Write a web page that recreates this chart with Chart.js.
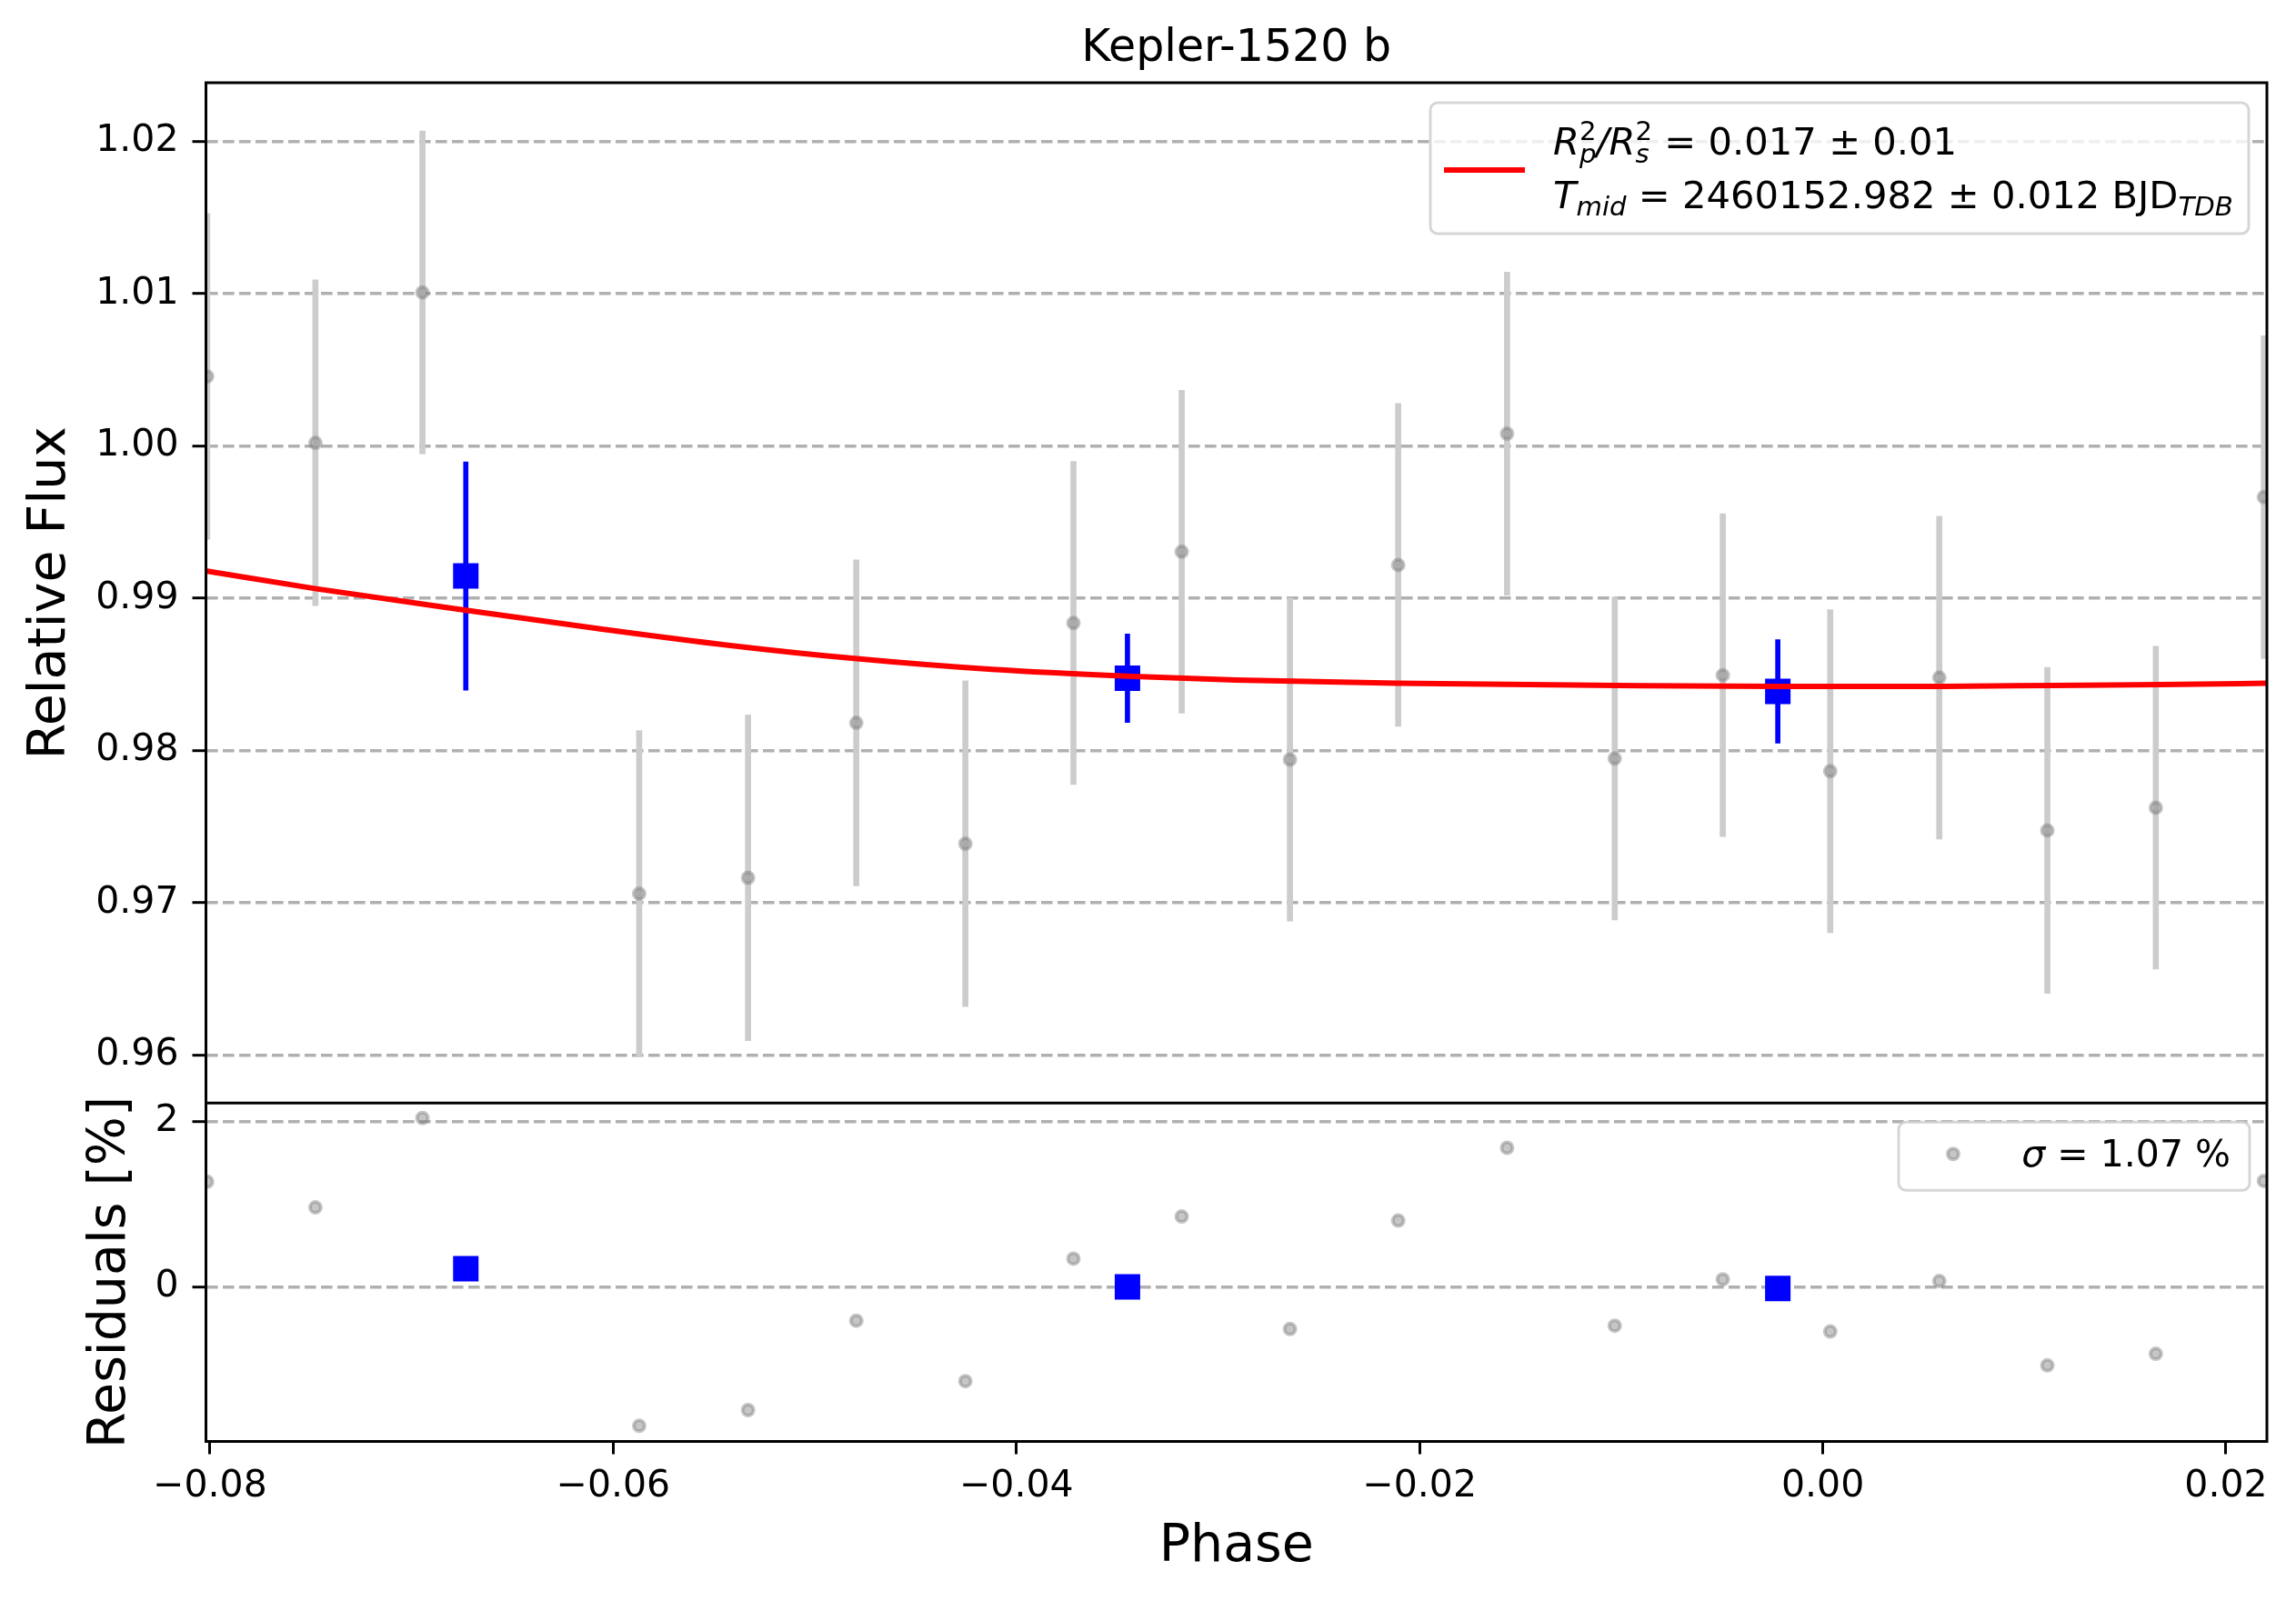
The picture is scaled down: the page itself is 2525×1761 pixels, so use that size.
<!DOCTYPE html>
<html>
<head>
<meta charset="utf-8">
<title>Kepler-1520 b</title>
<script src="https://cdn.jsdelivr.net/npm/chart.js@4.4.0/dist/chart.umd.min.js"></script>
<style>
  html, body { margin: 0; padding: 0; background: #fff; }
  canvas { display: block; }
</style>
</head>
<body>
<canvas id="lc" width="2525" height="1761"></canvas>
<script>
// phase-folded points (grey)
const phase = [-0.08014, -0.07477, -0.06946, -0.05871, -0.05331, -0.04794, -0.04253, -0.03717, -0.03180, -0.02643,
               -0.02106, -0.01566, -0.01032, -0.00496, 0.00037, 0.00578, 0.01114, 0.01652, 0.02188];
const flux = [1.00456, 1.00020, 1.01007, 0.97060, 0.97164, 0.98181, 0.97388, 0.98837, 0.99305, 0.97940,
              0.99218, 1.00080, 0.97947, 0.98494, 0.97864, 0.98478, 0.97475, 0.97624, 0.99663];
const fluxErr = [0.0107, 0.0107, 0.0106, 0.0107, 0.0107, 0.0107, 0.0107, 0.0106, 0.0106, 0.0106,
                 0.0106, 0.0106, 0.0106, 0.0106, 0.0106, 0.0106, 0.0107, 0.0106, 0.0106];
const residual = [1.27, 0.96, 2.04, -1.68, -1.49, -0.41, -1.14, 0.34, 0.85, -0.51,
                  0.80, 1.68, -0.47, 0.09, -0.54, 0.07, -0.95, -0.81, 1.28];

// binned points (blue)
const binPhase = [-0.06731, -0.03449, -0.00223];
const binFlux = [0.99145, 0.98474, 0.98388];
const binErr = [0.0075, 0.0029, 0.0034];
const binResidual = [0.22, 0.00, -0.02];

// transit model (red)
const modelPhase = [-0.0802, -0.0748, -0.0673, -0.0608, -0.0543, -0.0479, -0.0412, -0.0345,
                    -0.0291, -0.0211, -0.0102, -0.0022, 0.0059, 0.0113, 0.0167, 0.0220];
const modelFlux = [0.99179, 0.99063, 0.98920, 0.98801, 0.98691, 0.98602, 0.98532, 0.98487,
                   0.98462, 0.98441, 0.98427, 0.98421, 0.98421, 0.98427, 0.98433, 0.98441];

// axes
const xTicks = [-0.08, -0.06, -0.04, -0.02, 0.00, 0.02];
const xTickLabels = ['\u22120.08', '\u22120.06', '\u22120.04', '\u22120.02', '0.00', '0.02'];
const fluxTicks = [0.96, 0.97, 0.98, 0.99, 1.00, 1.01, 1.02];
const fluxTickLabels = ['0.96', '0.97', '0.98', '0.99', '1.00', '1.01', '1.02'];
const residTicks = [0, 2];
const residTickLabels = ['0', '2'];

const FONT = "'DejaVu Sans', sans-serif";
Chart.defaults.font.family = FONT;
Chart.defaults.color = '#000';

const greyBar = '#cccccc';
const greyDot = 'rgba(128,128,128,0.45)';

const tickFont = { size: 41 };
const labelFont = { size: 57 };

function yGrid() {
  return {
    color: '#b0b0b0', lineWidth: 3.4,
    drawTicks: true, tickLength: 15, tickWidth: 3, tickColor: '#000', tickBorderDash: []
  };
}

// frame around both panels, like matplotlib spines
const framePlugin = {
  id: 'frame',
  afterDatasetsDraw(chart) {
    const { ctx, chartArea: ca } = chart;
    const mid = chart.scales.y2.top;
    ctx.save();
    ctx.strokeStyle = '#000';
    ctx.lineWidth = 3;
    ctx.strokeRect(ca.left, ca.top, ca.right - ca.left, ca.bottom - ca.top);
    ctx.beginPath();
    ctx.moveTo(ca.left, mid);
    ctx.lineTo(ca.right, mid);
    ctx.stroke();
    ctx.restore();
  }
};

function legendBox(ctx, x, y, w, h) {
  ctx.beginPath();
  ctx.roundRect(x, y, w, h, 8);
  ctx.fillStyle = 'rgba(255,255,255,0.8)';
  ctx.fill();
  ctx.lineWidth = 3;
  ctx.strokeStyle = 'rgba(204,204,204,0.8)';
  ctx.stroke();
}

// draws text runs with italic / sub / superscript pieces
function drawRuns(ctx, x, y, runs, measureOnly, big, small) {
  big = big || 41;
  small = small || 29;
  let cx = x, prevX = x, prevW = 0;
  for (const r of runs) {
    const size = r.small ? small : big;
    ctx.font = (r.it ? 'italic ' : '') + size + 'px ' + FONT;
    const w = ctx.measureText(r.t).width;
    const dx = r.stack ? prevX : cx;
    if (!measureOnly) ctx.fillText(r.t, dx, y + (r.dy || 0));
    if (r.stack) {
      cx = prevX + Math.max(prevW, w);
    } else {
      prevX = cx; prevW = w; cx += w;
    }
  }
  return cx - x;
}

const legendPlugin = {
  id: 'mplLegends',
  afterDraw(chart) {
    const { ctx, chartArea: ca } = chart;
    const y2 = chart.scales.y2;
    ctx.save();
    ctx.textBaseline = 'alphabetic';
    ctx.textAlign = 'left';

    // upper legend: model
    const bx = ca.right - 920, by = ca.top + 22;
    legendBox(ctx, bx, by, 900, 144);
    ctx.strokeStyle = 'red';
    ctx.lineWidth = 6;
    ctx.beginPath();
    ctx.moveTo(bx + 15, by + 74);
    ctx.lineTo(bx + 104, by + 74);
    ctx.stroke();
    ctx.fillStyle = '#000';
    drawRuns(ctx, bx + 135, by + 57, [
      { t: 'R', it: true },
      { t: 'p', it: true, small: true, dy: 9 },
      { t: '2', small: true, dy: -16, stack: true },
      { t: '/', it: true },
      { t: 'R', it: true },
      { t: 's', it: true, small: true, dy: 9 },
      { t: '2', small: true, dy: -16, stack: true },
      { t: ' = 0.017 \u00b1 0.01' }
    ], false, 41.7, 29.2);
    drawRuns(ctx, bx + 135, by + 116, [
      { t: 'T', it: true },
      { t: 'mid', it: true, small: true, dy: 8 },
      { t: ' = 2460152.982 \u00b1 0.012 BJD' },
      { t: 'TDB', it: true, small: true, dy: 8 }
    ], false, 41.7, 29.2);

    // lower legend: scatter of residuals
    const lx = ca.right - 405, ly = y2.top + 21;
    legendBox(ctx, lx, ly, 386, 75);
    ctx.beginPath();
    ctx.arc(lx + 60, ly + 35, 6, 0, Math.PI * 2);
    ctx.fillStyle = greyDot;
    ctx.fill();
    ctx.lineWidth = 4;
    ctx.strokeStyle = greyDot;
    ctx.stroke();
    const sigmaRuns = [{ t: '\u03c3', it: true }, { t: ' = 1.07 %' }];
    const w = drawRuns(ctx, 0, 0, sigmaRuns, true);
    ctx.fillStyle = '#000';
    drawRuns(ctx, lx + 365 - w, ly + 49, sigmaRuns);
    ctx.restore();
  }
};

const datasets = [
  {
    type: 'bar', label: 'err', yAxisID: 'y', order: 6, clip: 0,
    data: phase.map((x, i) => ({ x, y: [flux[i] - fluxErr[i], flux[i] + fluxErr[i]] })),
    backgroundColor: greyBar, borderWidth: 0, grouped: false,
    barThickness: 6, maxBarThickness: 6, categoryPercentage: 1, barPercentage: 1
  },
  {
    type: 'scatter', label: 'data', yAxisID: 'y', order: 5, clip: 0,
    data: phase.map((x, i) => ({ x, y: flux[i] })),
    pointRadius: 6, borderWidth: 4, backgroundColor: greyDot, borderColor: greyDot
  },
  {
    type: 'bar', label: 'bin err', yAxisID: 'y', order: 4, clip: 0,
    data: binPhase.map((x, i) => ({ x, y: [binFlux[i] - binErr[i], binFlux[i] + binErr[i]] })),
    backgroundColor: '#0000ff', borderWidth: 0, grouped: false,
    barThickness: 5, maxBarThickness: 5, categoryPercentage: 1, barPercentage: 1
  },
  {
    type: 'scatter', label: 'binned', yAxisID: 'y', order: 3, clip: 0,
    data: binPhase.map((x, i) => ({ x, y: binFlux[i] })),
    pointStyle: 'rect', pointRadius: 19.8, borderWidth: 0, backgroundColor: '#0000ff'
  },
  {
    type: 'line', label: 'model', yAxisID: 'y', order: 2, clip: 0,
    data: modelPhase.map((x, i) => ({ x, y: modelFlux[i] })),
    borderColor: '#ff0000', borderWidth: 6, pointRadius: 0, fill: false,
    cubicInterpolationMode: 'monotone'
  },
  {
    type: 'scatter', label: 'resid', yAxisID: 'y2', order: 5, clip: 0,
    data: phase.map((x, i) => ({ x, y: residual[i] })),
    pointRadius: 6, borderWidth: 4, backgroundColor: greyDot, borderColor: greyDot
  },
  {
    type: 'scatter', label: 'binned resid', yAxisID: 'y2', order: 3, clip: 0,
    data: binPhase.map((x, i) => ({ x, y: binResidual[i] })),
    pointStyle: 'rect', pointRadius: 19.8, borderWidth: 0, backgroundColor: '#0000ff'
  }
];

new Chart(document.getElementById('lc'), {
  type: 'scatter',
  data: { datasets },
  options: {
    responsive: false,
    devicePixelRatio: 1,
    animation: false,
    events: [],
    layout: { padding: { left: 0, right: 32, top: 0, bottom: 0 } },
    plugins: {
      legend: { display: false },
      tooltip: { enabled: false },
      title: {
        display: true, text: 'Kepler-1520 b', fullSize: false,
        font: { size: 49, weight: 'normal' }, color: '#000',
        padding: { top: 25, bottom: 7.2 }
      }
    },
    scales: {
      x: {
        type: 'linear', min: -0.0802, max: 0.02203, offset: false,
        afterBuildTicks: s => { s.ticks = xTicks.map(v => ({ value: v })); },
        afterFit: s => { s.height = 175.5; },
        ticks: { font: tickFont, color: '#000', padding: 11, maxRotation: 0, autoSkip: false,
                 callback: (v, i) => xTickLabels[i] },
        grid: { drawOnChartArea: false, drawTicks: true, tickLength: 14, tickWidth: 3,
                tickColor: '#000', offset: false },
        border: { display: false },
        title: { display: true, text: 'Phase', font: labelFont, color: '#000',
                 padding: { top: 0, bottom: 25 } }
      },
      y: {
        type: 'linear', position: 'left', stack: 'panels', stackWeight: 3.015, weight: 2,
        min: 0.95685, max: 1.02384, beginAtZero: false,
        afterBuildTicks: s => { s.ticks = fluxTicks.map(v => ({ value: v })); },
        afterFit: s => { s.width = 226.5; },
        ticks: { font: tickFont, color: '#000', padding: 15, autoSkip: false,
                 callback: (v, i) => fluxTickLabels[i] },
        grid: yGrid(),
        border: { display: false, dash: [12.6, 5.4] },
        title: { display: true, text: 'Relative Flux', font: labelFont, color: '#000',
                 padding: { top: 22, bottom: 0 } }
      },
      y2: {
        type: 'linear', position: 'left', stack: 'panels', stackWeight: 1, weight: 1,
        min: -1.869, max: 2.221, beginAtZero: false,
        afterBuildTicks: s => { s.ticks = residTicks.map(v => ({ value: v })); },
        afterFit: s => { s.width = 226.5; },
        ticks: { font: tickFont, color: '#000', padding: 15, autoSkip: false,
                 callback: (v, i) => residTickLabels[i] },
        grid: yGrid(),
        border: { display: false, dash: [12.6, 5.4] },
        title: { display: true, text: 'Residuals [%]', font: labelFont, color: '#000',
                 padding: { top: 88, bottom: 0 } }
      }
    }
  },
  plugins: [framePlugin, legendPlugin]
});
</script>
</body>
</html>
